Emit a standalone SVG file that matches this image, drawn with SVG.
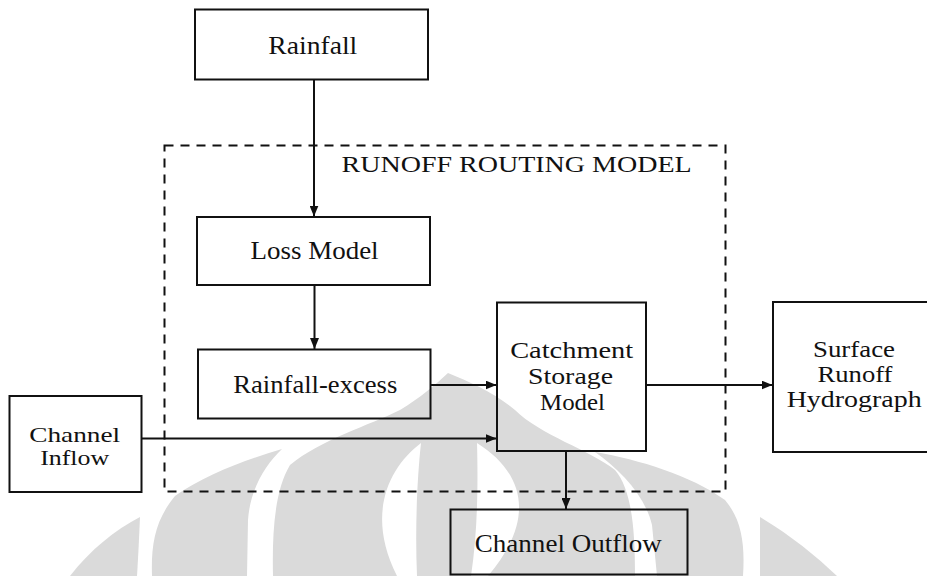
<svg xmlns="http://www.w3.org/2000/svg" width="927" height="576" viewBox="0 0 927 576">
<defs>
<style>
.box{fill:none;stroke:#111;stroke-width:2}
.wm{fill:#dadada;stroke:none}
.gap{fill:#ffffff;stroke:none}
.conn{fill:none;stroke:#111;stroke-width:2}
</style>
<marker id="ah" markerWidth="11" markerHeight="9" refX="11" refY="4.5" orient="auto" markerUnits="userSpaceOnUse">
<path d="M0,0 L11,4.5 L0,9 Z" fill="#111"/>
</marker>
</defs>
<rect width="927" height="576" fill="#ffffff"/>
<g id="watermark">
<path class="wm" d="M70,576 C90,550 115,530 140,517 C139,540 138,560 137,576 Z"/>
<path class="wm" d="M760,576 C760,560 760,540 760,517 C790,535 815,555 837,576 Z"/>
<path class="wm" d="M152,576 C151,545 155,520 175,496 C205,475 245,460 282,449 C265,465 250,490 248,520 L247,576 Z"/>
<path class="wm" d="M743,576 C745,545 742,520 725,500 C690,475 640,460 595,452 C620,470 645,495 652,525 L657,576 Z"/>
<path class="wm" d="M448,373 C470,382 495,393 515,410 C540,435 590,450 615,470 C632,490 635,530 635,576 L273,576 C272,530 275,490 290,465 C320,440 370,425 400,410 C420,398 435,385 448,373 Z"/>
<path class="gap" d="M421,443 C388,468 366,515 397,576 L417,576 C415,530 417,480 421,443 Z"/>
<path class="gap" d="M477,443 C520,470 540,515 488,576 L471,576 C478,530 478,480 477,443 Z"/>
</g>
<g id="runoff-routing-model">
<rect x="164.5" y="145.5" width="561" height="346" fill="none" stroke="#111" stroke-width="2" stroke-dasharray="9 7"/>
<text x="341.6" y="172" font-family="Liberation Serif, DejaVu Serif, serif" font-size="23" fill="#111" textLength="350" lengthAdjust="spacingAndGlyphs">RUNOFF ROUTING MODEL</text>
</g>
<g id="connectors">
<path class="conn" d="M314,79.5 V216.5" marker-end="url(#ah)"/>
<path class="conn" d="M314.5,285 V349" marker-end="url(#ah)"/>
<path class="conn" d="M430.5,385 H496.5" marker-end="url(#ah)"/>
<path class="conn" d="M141.5,438.5 H496.5" marker-end="url(#ah)"/>
<path class="conn" d="M646,385 H772.5" marker-end="url(#ah)"/>
<path class="conn" d="M566,451 V509" marker-end="url(#ah)"/>
</g>
<g font-family="Liberation Serif, DejaVu Serif, serif" font-size="26" fill="#111" text-anchor="middle">
<g id="rainfall">
<rect class="box" x="195" y="9.5" width="233" height="70"/>
<text x="312.8" y="54" textLength="89" lengthAdjust="spacingAndGlyphs">Rainfall</text>
</g>
<g id="loss-model">
<rect class="box" x="197" y="217" width="233" height="68"/>
<text x="314.6" y="259" textLength="128" lengthAdjust="spacingAndGlyphs">Loss Model</text>
</g>
<g id="rainfall-excess">
<rect class="box" x="198" y="349.5" width="232.5" height="69"/>
<text x="315.3" y="393" textLength="164" lengthAdjust="spacingAndGlyphs">Rainfall-excess</text>
</g>
<g id="catchment-storage-model" font-size="24">
<rect class="box" x="497" y="302.5" width="149" height="148.5"/>
<text x="571.7" y="358" textLength="123" lengthAdjust="spacingAndGlyphs">Catchment</text>
<text x="570.5" y="384" textLength="85" lengthAdjust="spacingAndGlyphs">Storage</text>
<text x="572.5" y="410" textLength="65" lengthAdjust="spacingAndGlyphs">Model</text>
</g>
<g id="surface-runoff-hydrograph" font-size="23">
<rect class="box" x="773" y="302" width="160" height="150"/>
<text x="854" y="357" textLength="82" lengthAdjust="spacingAndGlyphs">Surface</text>
<text x="855" y="382" textLength="75" lengthAdjust="spacingAndGlyphs">Runoff</text>
<text x="854.2" y="407" textLength="135" lengthAdjust="spacingAndGlyphs">Hydrograph</text>
</g>
<g id="channel-inflow" font-size="22">
<rect class="box" x="9.5" y="396" width="132" height="96"/>
<text x="74.7" y="442" textLength="91" lengthAdjust="spacingAndGlyphs">Channel</text>
<text x="74.7" y="465" textLength="69" lengthAdjust="spacingAndGlyphs">Inflow</text>
</g>
<g id="channel-outflow">
<rect class="box" x="450.5" y="509.5" width="237" height="65"/>
<text x="568.3" y="552" textLength="187" lengthAdjust="spacingAndGlyphs">Channel Outflow</text>
</g>
</g>
</svg>
